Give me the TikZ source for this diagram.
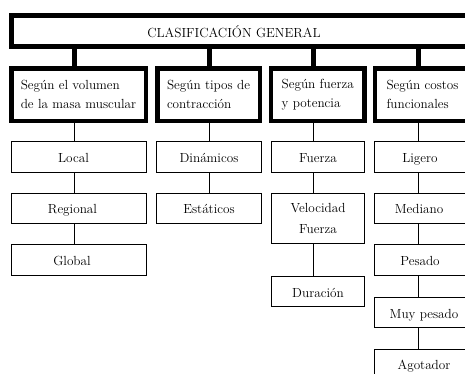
\documentclass[tikz,border=0pt]{standalone}
\usepackage{fontspec}
\begin{document}
\begin{tikzpicture}[x=1pt,y=-1pt,
  every node/.style={inner sep=0pt},
  topbox/.style={draw,line width=5pt,minimum width=461.5pt,minimum height=31pt},
  catbox/.style={draw,line width=4.5pt,minimum height=52.5pt,align=left,
    font=\fontsize{13.2}{18.5}\selectfont},
  itembox/.style={draw,line width=1pt,font=\fontsize{13.2}{20}\selectfont,
    text height=11pt,text depth=0pt},
  itembox2/.style={draw,line width=1pt,align=center,font=\fontsize{13.2}{20.3}\selectfont},
  toplabel/.style={font=\fontsize{13.2}{16}\selectfont,anchor=base},
  thickline/.style={line width=5pt},
  thinline/.style={line width=1pt}]
\useasboundingbox (0,0) rectangle (465,373);
\clip (0,0) rectangle (465,373);
% top
\node[topbox] (top) at (241.75,31.3) {};
\node[toplabel] (toptext) at (234,37.3) {CLASIFICACIÓN GENERAL};
% level 2
\node[catbox,minimum width=134.5pt] (b1) at (78.5,94.5) {Según el volumen\\de la masa muscular};
\node[catbox,minimum width=102.5pt] (b2) at (208.5,94.5) {Según tipos de\\contracción};
\node[catbox,minimum width=93.5pt] (b3) at (317.7,94.5) {Según fuerza\\y potencia};
\node[catbox,minimum width=95.5pt] (b4) at (422.5,94.5) {Según costos\\funcionales};
% column 1
\node[itembox,minimum width=135pt,minimum height=31pt] (loc) at (79,157) {Local\hspace*{11pt}};
\node[itembox,minimum width=135pt,minimum height=29.5pt] (reg) at (79,208.25) {Regional\hspace*{13pt}};
\node[itembox,minimum width=135pt,minimum height=31pt] (glo) at (79,260) {Global\hspace*{14pt}};
% column 2
\node[itembox,minimum width=105pt,minimum height=31pt] (din) at (209,157) {Dinámicos};
\node[itembox,minimum width=105pt,minimum height=29.5pt] (est) at (209,208.25) {Estáticos};
% column 3
\node[itembox,minimum width=93pt,minimum height=31pt] (fue) at (318,157) {Fuerza};
\node[itembox2,minimum width=93pt,minimum height=50pt] (vel) at (318,218.5) {Velocidad\\Fuerza};
\node[itembox,minimum width=93pt,minimum height=30pt] (dur) at (318,291.5) {Duración};
% column 4
\node[itembox,minimum width=99pt,minimum height=31pt] (lig) at (424,157) {Ligero\hspace*{8pt}};
\node[itembox,minimum width=99pt,minimum height=29.5pt] (med) at (424,208.25) {Mediano\hspace*{10pt}};
\node[itembox,minimum width=99pt,minimum height=31pt] (pes) at (424,260) {Pesado\hspace*{8pt}};
\node[itembox,minimum width=99pt,minimum height=30pt] (muy) at (424,312.5) {Muy pesado};
\node[itembox,minimum width=99pt,minimum height=30pt] (ago) at (424,364) {Agotador};
% connector columns
\coordinate (k1) at (74,0);
\coordinate (k2) at (209,0);
\coordinate (k3) at (313,0);
\coordinate (k4) at (418,0);
% thick connectors
\draw[thickline] (top.south -| k1) -- (b1.north -| k1);
\draw[thickline] (top.south -| k2) -- (b2.north -| k2);
\draw[thickline] (top.south -| k3) -- (b3.north -| k3);
\draw[thickline] (top.south -| k4) -- (b4.north -| k4);
% thin connectors
\draw[thinline] (b1.south -| k1) -- (loc.north -| k1);
\draw[thinline] (loc.south -| k1) -- (reg.north -| k1);
\draw[thinline] (reg.south -| k1) -- (glo.north -| k1);
\draw[thinline] (b2.south -| k2) -- (din.north -| k2);
\draw[thinline] (din.south -| k2) -- (est.north -| k2);
\draw[thinline] (b3.south -| k3) -- (fue.north -| k3);
\draw[thinline] (fue.south -| k3) -- (vel.north -| k3);
\draw[thinline] (vel.south -| k3) -- (dur.north -| k3);
\draw[thinline] (b4.south -| k4) -- (lig.north -| k4);
\draw[thinline] (lig.south -| k4) -- (med.north -| k4);
\draw[thinline] (med.south -| k4) -- (pes.north -| k4);
\draw[thinline] (pes.south -| k4) -- (muy.north -| k4);
\draw[thinline] (muy.south -| k4) -- (ago.north -| k4);
\end{tikzpicture}
\end{document}
